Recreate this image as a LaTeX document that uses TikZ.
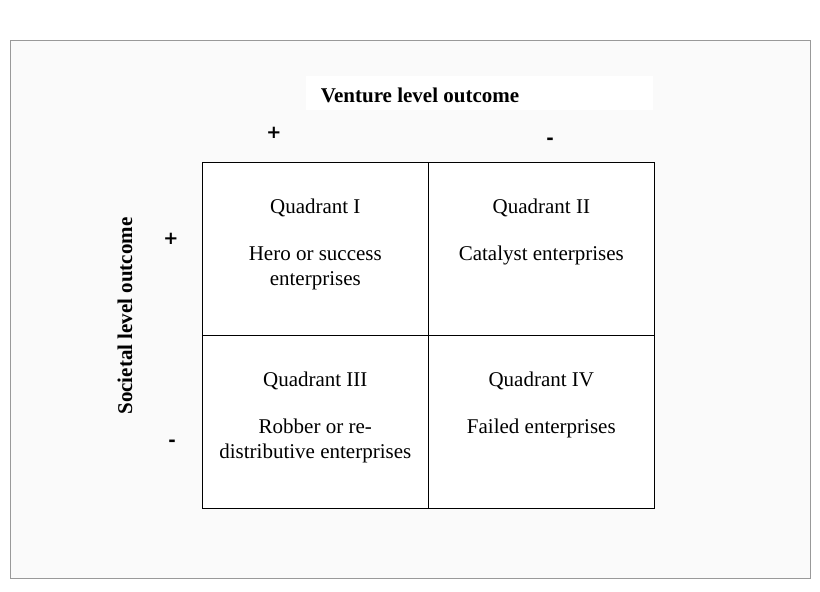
\documentclass[tikz,border=0pt]{standalone}
\usepackage{fontspec}
\setmainfont{Liberation Serif}
\newfontfamily\signfont{DejaVu Sans}
\usetikzlibrary{positioning}
\tikzstyle{cell} =
[
	draw,rectangle,semithick,minimum width=226pt,minimum height=173pt,
	anchor=north west,inner sep=0pt
]
\tikzstyle{qtext} = [align=center,font=\fontsize{21}{25}\selectfont]
\tikzstyle{sign} = [font=\fontsize{18}{18}\selectfont\signfont\bfseries]
\begin{document}
\begin{tikzpicture}[x=1pt,y=-1pt]
\useasboundingbox (0,0) rectangle (820,592);
\draw[gray!80,fill=gray!4] (10,40) rectangle (810,578);
\fill[white] (306,76) rectangle (653,110);

\node[font=\fontsize{21}{21}\selectfont\bfseries] (title) at (420,95) {Venture level outcome};
\node[font=\fontsize{21}{21}\selectfont\bfseries,rotate=90] (side) at (125,316) {Societal level outcome};

\node[sign] (vp) at (274,133) {+};
\node[sign] (vm) at (550,141) {-};
\node[sign] (sp) at (171,239) {+};
\node[sign] (sm) at (172,443) {-};

\node[cell,fill=white] (Q1) at (202,162) {};
\node[cell,fill=white] (Q2) at (428,162) {};
\node[cell,fill=white] (Q3) at (202,335) {};
\node[cell,fill=white] (Q4) at (428,335) {};

\node[qtext,below=33pt of Q1.north] {Quadrant I\\[22pt]Hero or success\\enterprises};
\node[qtext,below=33pt of Q2.north] {Quadrant II\\[22pt]Catalyst enterprises};
\node[qtext,below=33pt of Q3.north] {Quadrant III\\[22pt]Robber or re-\\distributive enterprises};
\node[qtext,below=33pt of Q4.north] {Quadrant IV\\[22pt]Failed enterprises};
\end{tikzpicture}
\end{document}
